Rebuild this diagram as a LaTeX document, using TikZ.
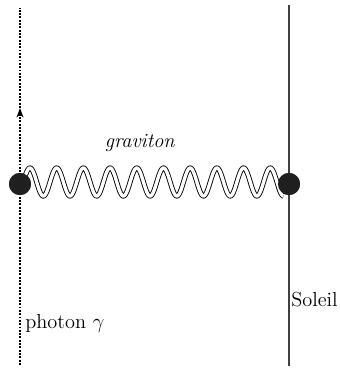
\documentclass[tikz,border=0pt]{standalone}
\usetikzlibrary{arrows.meta}
\begin{document}
\begin{tikzpicture}[x=0.5714pt,y=-0.5714pt,
  every node/.style={font=\fontsize{11.6}{14}\selectfont},
  dotdot/.style={circle,fill=black!88,inner sep=0pt,minimum size=12.6pt},
  grav/.style={double,double distance=1.9pt,line width=0.5pt},
  phot/.style={dash pattern=on 1.1pt off 0.8pt,line width=0.6pt},
  sun/.style={line width=0.8pt,black!75}]
\useasboundingbox (0,0) rectangle (340,368);
\coordinate (ptop) at (20,8);
\coordinate (pbot) at (20,365);
\coordinate (parr) at (20,108);
\coordinate (stop) at (289,5);
\coordinate (sbot) at (289,366);
\draw[sun] (stop) -- (sbot);
\draw[phot,-{Stealth[length=5.5pt,width=4pt]}] (pbot) -- (parr);
\draw[phot] (parr) -- (ptop);
\node[dotdot] (L) at (20,184) {};
\node[dotdot] (R) at (289,184) {};
\draw[grav,shift={(L)}] plot[domain=0:9.75,samples=500,smooth]
   ({3.3+26.7*\x},{-2-14*sin(360*\x)});
\node[dotdot] at (L) {};
\node[dotdot] at (R) {};
\node (gl) at (140,143) {\textit{graviton}};
\node[anchor=west,inner sep=0pt] (pl) at (25,323) {photon $\gamma$};
\node[anchor=west,inner sep=0pt] (sl) at (291,300) {Soleil};
\end{tikzpicture}
\end{document}
